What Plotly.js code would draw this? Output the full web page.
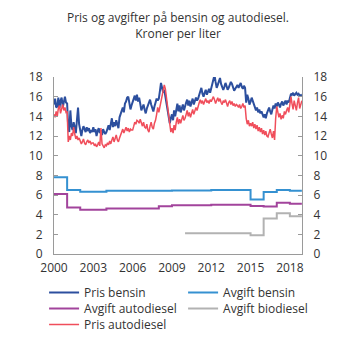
<!DOCTYPE html>
<html><head><meta charset="utf-8">
<script src="https://cdn.plot.ly/plotly-3.0.1.min.js"></script>
<style>html,body{margin:0;padding:0;background:#fff}#chart{width:353px;height:353px}</style>
</head><body><div id="chart"></div>
<script>
// Monthly series, Jan 2000 - Dec 2018 (one row per year)
const prisBensin = [
 15.2,15.8,14.9,15.0,15.9,14.8,15.6,15.9,14.9,15.7,16.0,15.4,
 15.3,12.8,12.4,14.6,13.0,12.6,13.4,12.9,12.3,13.6,14.9,13.2,
 12.5,12.0,12.6,13.0,12.7,12.4,12.9,12.5,12.8,12.3,12.6,12.4,
 12.9,12.4,12.7,12.0,12.5,12.8,12.3,12.6,12.1,12.7,12.4,12.2,
 12.4,12.9,13.1,12.6,13.3,13.8,12.9,13.4,13.0,13.6,13.2,12.8,
 13.9,14.2,14.6,14.9,14.4,15.3,15.5,15.9,16.0,15.2,14.7,15.1,
 15.4,15.8,16.1,15.6,16.2,15.5,15.9,15.3,14.6,14.9,15.2,14.7,
 14.3,14.8,15.1,15.5,15.7,15.2,14.9,14.5,15.0,15.3,15.8,15.6,
 15.8,16.6,17.4,16.9,16.4,16.7,16.0,15.5,14.9,14.2,13.3,13.8,
 14.2,13.6,14.6,14.0,14.9,15.3,14.5,15.1,14.4,14.8,15.2,14.6,
 14.9,15.4,15.7,15.1,15.6,15.0,15.4,15.8,15.2,15.5,15.9,15.6,
 15.8,16.2,16.6,16.9,16.3,16.0,16.4,16.7,16.2,16.5,16.8,16.4,
 16.8,17.3,17.6,18.2,17.5,16.9,17.2,17.7,17.9,17.3,16.9,16.7,
 17.0,17.4,17.1,16.7,16.9,17.2,17.5,17.3,16.9,16.6,16.8,17.0,
 17.2,16.9,17.1,17.4,17.0,16.8,17.1,16.9,15.4,16.2,15.8,15.2,
 15.5,15.9,15.6,15.2,15.0,14.6,14.9,14.4,14.7,14.3,14.5,14.1,
 13.9,14.2,13.8,14.3,14.6,14.9,14.5,14.2,14.7,15.1,14.8,15.3,
 15.0,15.4,15.2,14.9,15.3,15.5,15.1,15.4,15.6,15.2,15.6,15.4,
 15.8,16.3,16.2,16.4,16.1,16.3,16.4,16.2,16.3,16.1,16.2,16.2
];
const prisDiesel = [
 14.2,13.9,14.5,14.0,14.8,15.1,14.3,14.9,15.2,14.6,14.9,14.4,
 14.5,11.4,12.0,11.6,12.3,12.0,12.9,12.2,11.7,12.0,11.6,11.8,
 11.5,11.2,11.4,11.7,11.3,11.1,11.4,11.6,11.3,11.5,11.2,11.3,
 11.3,11.0,11.2,10.9,11.1,11.4,11.0,12.8,11.2,11.0,10.8,11.1,
 11.0,11.3,11.1,11.5,11.2,11.6,11.9,11.4,11.8,12.1,11.6,11.4,
 11.8,12.2,12.4,12.7,12.3,12.6,12.9,12.5,12.8,12.4,12.7,12.6,
 12.6,13.0,13.4,13.2,13.6,13.5,13.3,13.7,13.2,13.0,13.4,12.9,
 12.8,13.2,12.6,12.4,13.0,13.4,12.9,12.7,13.3,13.6,14.2,14.9,
 14.4,15.0,15.6,16.3,16.9,17.2,16.8,15.9,15.0,14.0,12.9,12.4,
 12.8,12.3,13.1,12.6,13.4,13.9,13.2,13.7,13.3,13.9,14.1,13.6,
 13.8,14.2,14.6,14.0,14.4,13.9,14.3,14.7,14.2,14.5,14.9,14.6,
 15.1,15.4,15.7,15.3,15.6,15.2,15.5,15.8,15.4,15.6,15.3,15.7,
 15.5,15.9,16.0,15.7,15.3,15.6,15.9,15.5,15.8,15.4,15.2,15.6,
 15.4,15.7,15.3,15.0,15.4,15.6,15.2,15.5,15.1,15.3,15.0,15.2,
 15.1,14.9,15.2,14.8,15.0,15.3,14.9,15.1,13.8,13.2,13.6,13.0,
 13.3,13.0,13.4,12.8,13.2,12.7,13.1,12.5,12.9,12.4,12.8,12.2,
 12.6,12.1,12.5,12.0,11.9,12.3,12.7,12.2,11.8,12.5,11.6,13.8,
 15.0,14.4,13.9,14.3,13.7,14.1,13.8,14.5,14.2,14.6,14.9,14.4,
 15.2,16.0,15.3,14.7,15.6,15.1,14.6,15.4,15.9,14.8,15.2,15.6
];
// Step series: value valid from each date
const avgiftDates = ['2000-01-01','2001-01-01','2002-01-01','2003-01-01','2004-01-01','2005-01-01','2006-01-01','2007-01-01','2008-01-01','2009-01-01','2010-01-01','2011-01-01','2012-01-01','2013-01-01','2014-01-01','2015-01-01','2016-01-01','2017-01-01','2018-01-01','2018-12-01'];
const avgiftBensin    = [7.8,6.5,6.32,6.32,6.42,6.42,6.42,6.42,6.42,6.47,6.47,6.47,6.52,6.52,6.52,5.55,6.3,6.52,6.42,6.42];
const avgiftDiesel    = [6.1,4.72,4.5,4.5,4.63,4.63,4.63,4.63,4.85,4.95,4.95,4.95,5.0,5.0,5.0,4.87,4.82,5.22,5.12,5.12];
const avgiftBiodiesel = [null,null,null,null,null,null,null,null,null,null,2.1,2.1,2.1,2.1,2.1,1.9,3.62,4.15,3.85,3.85];
const xTickYears = [2000,2003,2006,2009,2012,2015,2018];

const months = [];
for (let y = 2000; y <= 2018; y++) for (let m = 1; m <= 12; m++) months.push(y + '-' + String(m).padStart(2,'0') + '-01');

const FONT = 'Open Sans, Noto Sans, sans-serif';
const traces = [
 {x: months, y: prisBensin, name: 'Pris bensin', type: 'scatter', mode: 'lines', line: {color: '#2c4f9e', width: 2}, legend: 'legend'},
 {x: avgiftDates, y: avgiftBensin, name: 'Avgift bensin', type: 'scatter', mode: 'lines', line: {color: '#3591d1', width: 2, shape: 'hv'}, legend: 'legend'},
 {x: avgiftDates, y: avgiftDiesel, name: 'Avgift autodiesel', type: 'scatter', mode: 'lines', line: {color: '#a2449c', width: 2, shape: 'hv'}, legend: 'legend2'},
 {x: avgiftDates, y: avgiftBiodiesel, name: 'Avgift biodiesel', type: 'scatter', mode: 'lines', line: {color: '#b2b2b2', width: 2, shape: 'hv'}, legend: 'legend2'},
 {x: months, y: prisDiesel, name: 'Pris autodiesel', type: 'scatter', mode: 'lines', line: {color: '#f04e5b', width: 1.5}, legend: 'legend3'},
 {x: months, y: prisBensin, yaxis: 'y2', showlegend: false, hoverinfo: 'skip', mode: 'lines', line: {color: 'rgba(0,0,0,0)', width: 0}}
];
const legendBase = {orientation: 'h', xanchor: 'left', yanchor: 'top', x: -0.040, entrywidth: 94, entrywidthmode: 'pixels', font: {family: FONT, size: 12, color: '#333'}, bgcolor: 'rgba(0,0,0,0)', traceorder: 'normal'};
const yax = {range: [0, 18], dtick: 2, showgrid: false, zeroline: false, showline: true, linecolor: '#9a9a9a', linewidth: 1, ticks: 'inside', ticklen: 4, tickcolor: '#9a9a9a', tickfont: {family: FONT, size: 12, color: '#333'}, ticklabelstandoff: 8, fixedrange: true};
const layout = {
 width: 353, height: 353,
 margin: {l: 54, r: 51, t: 77, b: 99},
 paper_bgcolor: '#fff', plot_bgcolor: '#fff',
 title: {text: 'Pris og avgifter på bensin og autodiesel.<br>Kroner per liter', font: {family: FONT, size: 12, color: '#333'}, x: 0.5, xanchor: 'center', xref: 'paper', y: 1 - 22/353, yref: 'container', yanchor: 'top'},
 xaxis: {type: 'date', range: ['2000-01-01', '2018-12-05'], tickvals: xTickYears.map(y => y + '-01-01'), ticktext: xTickYears.map(String), showgrid: false, zeroline: false, showline: true, linecolor: '#9a9a9a', ticks: '', ticklabelstandoff: 3, tickfont: {family: FONT, size: 12, color: '#333'}},
 yaxis: Object.assign({}, yax, {side: 'left'}),
 yaxis2: Object.assign({}, yax, {side: 'right', overlaying: 'y'}),
 legend: Object.assign({}, legendBase, {y: -0.1356}),
 legend2: Object.assign({}, legendBase, {y: -0.226}),
 legend3: Object.assign({}, legendBase, {y: -0.3164}),
 showlegend: true
};
Plotly.newPlot('chart', traces, layout, {staticPlot: true, displayModeBar: false});
</script></body></html>
